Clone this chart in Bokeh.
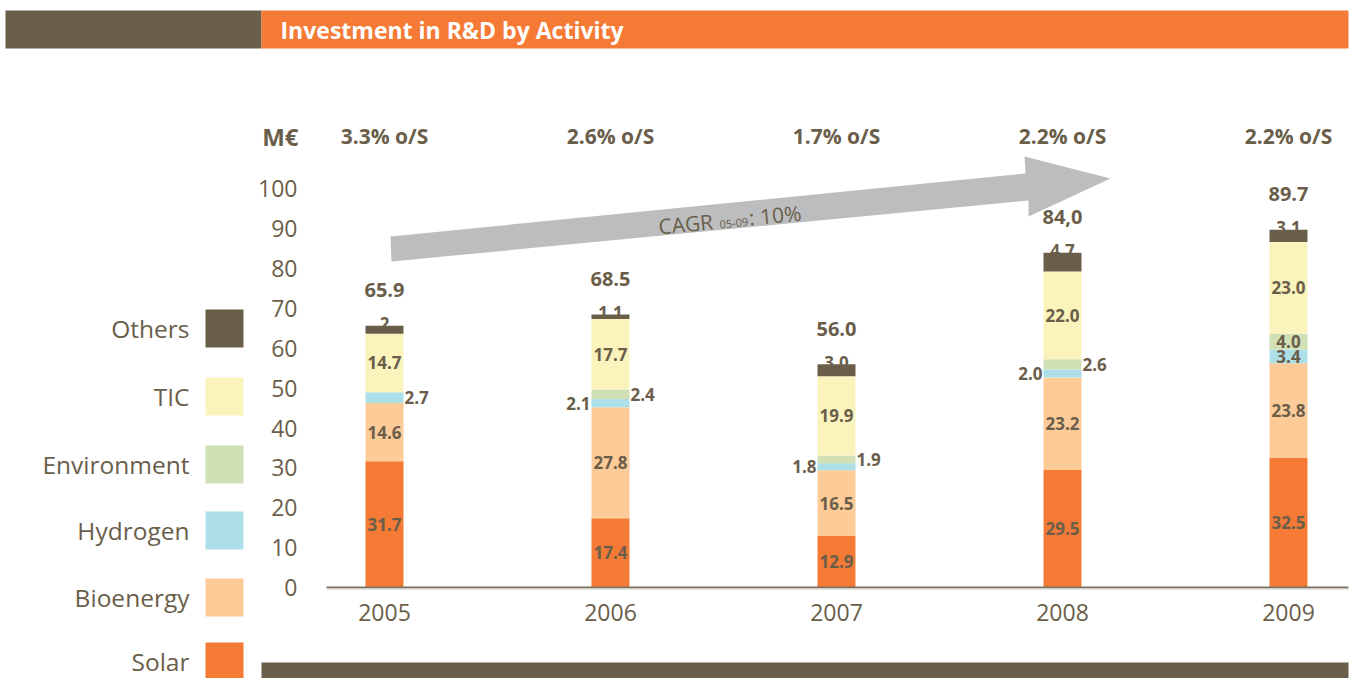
import math
from bokeh.plotting import figure
from bokeh.models import Range1d, BoxAnnotation, Label, PolyAnnotation, ColumnDataSource
from bokeh.core.properties import value
from bokeh.embed import file_html
from bokeh.resources import INLINE

# ---------------- data ----------------
years = ["2005", "2006", "2007", "2008", "2009"]
solar = [31.7, 17.4, 12.9, 29.5, 32.5]
bioenergy = [14.6, 27.8, 16.5, 23.2, 23.8]
hydrogen = [2.7, 2.1, 1.8, 2.0, 3.4]
environment = [0.0, 2.4, 1.9, 2.6, 4.0]
tic = [14.7, 17.7, 19.9, 22.0, 23.0]
others = [2.0, 1.1, 3.0, 4.7, 3.1]
others_labels = ["2", "1.1", "3.0", "4.7", "3.1"]
total_labels = ["65.9", "68.5", "56.0", "84,0", "89.7"]
share_labels = ["3.3% o/S", "2.6% o/S", "1.7% o/S", "2.2% o/S", "2.2% o/S"]
y_ticks = [0, 10, 20, 30, 40, 50, 60, 70, 80, 90, 100]
series_names = ["Solar", "Bioenergy", "Hydrogen", "Environment", "TIC", "Others"]
series_values = [solar, bioenergy, hydrogen, environment, tic, others]
title_text = "Investment in R&D by Activity"
unit_text = "M€"
cagr_text = ["CAGR", "05-09", ": 10%"]

# ---------------- style ----------------
BROWN = "#6A5E4A"
ORANGE = "#F47A36"
colors = [ORANGE, "#FDCB98", "#ADDFE9", "#D0E0B4", "#FBF3BC", BROWN]
GRAY = "#BCBDBF"
FONT = value("Open Sans")
BAR_W = 0.168
placement = {
    "Solar": ["c"] * 5,
    "Bioenergy": ["c"] * 5,
    "Hydrogen": ["r", "l", "l", "l", "c"],
    "Environment": ["n", "r", "r", "r", "c"],
    "TIC": ["c"] * 5,
    "Others": ["a"] * 5,
}

W, H = 1355, 678
p = figure(width=W, height=H, output_backend="svg", toolbar_location=None,
           x_range=Range1d(-1.6991, 4.2965), y_range=Range1d(-22.84, 147.3),
           x_axis_location=None, y_axis_location=None,
           min_border=0, min_border_left=0, min_border_right=0,
           min_border_top=0, min_border_bottom=0)
p.outline_line_color = None
p.xgrid.visible = False
p.ygrid.visible = False
p.background_fill_color = "white"
p.border_fill_color = "white"

xs = list(range(len(years)))
data = {"x": xs}
for n, v in zip(series_names, series_values):
    data[n] = v
src = ColumnDataSource(data)
p.vbar_stack(series_names, x="x", width=BAR_W, fill_color=colors,
             line_color=None, source=src)

# axis line and tick labels (drawn through the plot's scales)
X_AXIS_START, X_AXIS_END = -0.2566, 4.2655
p.segment(x0=[X_AXIS_START], x1=[X_AXIS_END], y0=[0], y1=[0],
          line_color="#7B705F", line_width=2)
p.segment(x0=[X_AXIS_START], x1=[X_AXIS_END], y0=[-0.45], y1=[-0.45],
          line_color="#E6E3DE", line_width=1.5)
X_YLAB = -0.385
p.text(x=[X_YLAB] * len(y_ticks), y=y_ticks, text=[str(t) for t in y_ticks],
       text_align="right", text_baseline="middle", text_font=FONT,
       text_font_size="23px", text_color=BROWN)
Y_XLAB = -6.3
p.text(x=xs, y=[Y_XLAB] * len(xs), text=years, text_align="center",
       text_baseline="middle", text_font=FONT, text_font_size="23px",
       text_color=BROWN)

# segment labels
groups = {"c": ([], [], []), "l": ([], [], []), "r": ([], [], []), "a": ([], [], [])}
base = [0.0] * len(years)
for n, v in zip(series_names, series_values):
    for i in xs:
        pos = placement[n][i]
        lab = others_labels[i] if n == "Others" else f"{v[i]:.1f}"
        if pos == "c":
            gx, gy = i, base[i] + v[i] / 2
        elif pos == "l":
            gx, gy = i - BAR_W / 2, base[i] + v[i] / 2
        elif pos == "r":
            gx, gy = i + BAR_W / 2, base[i] + v[i] / 2
        elif pos == "a":
            gx, gy = i, base[i] + v[i]
        if pos in groups:
            groups[pos][0].append(gx)
            groups[pos][1].append(gy)
            groups[pos][2].append(lab)
        base[i] += v[i]
totals = base

common = dict(text_font=FONT, text_font_style="bold", text_font_size="17px",
              text_color=BROWN)
gx, gy, gt = groups["c"]
p.text(x=gx, y=gy, text=gt, text_align="center", text_baseline="middle", **common)
gx, gy, gt = groups["l"]
p.text(x=gx, y=gy, text=gt, text_align="right", text_baseline="middle",
       x_offset=-1, **common)
gx, gy, gt = groups["r"]
p.text(x=gx, y=gy, text=gt, text_align="left", text_baseline="middle",
       x_offset=1, **common)
gx, gy, gt = groups["a"]
p.text(x=gx, y=[g + 0.5 for g in gy], text=gt, text_align="center",
       text_baseline="alphabetic", **common)

# totals above bars
TOTAL_GAP = 8.9
p.text(x=xs, y=[t + TOTAL_GAP for t in totals], text=total_labels,
       text_align="center", text_baseline="middle", text_font=FONT,
       text_font_style="bold", text_font_size="20px", text_color=BROWN)

# share of sales row
Y_SHARE = 113.2
p.text(x=xs, y=[Y_SHARE] * len(xs), text=share_labels, text_align="center",
       text_baseline="middle", text_font=FONT, text_font_style="bold",
       text_font_size="21px", text_color=BROWN)
p.add_layout(Label(x=298, y=Y_SHARE, x_units="canvas", y_units="data",
                   text=unit_text, text_align="right", text_baseline="middle",
                   text_font="Open Sans", text_font_style="bold",
                   text_font_size="24px", text_color=BROWN))

# CAGR arrow
arrow = PolyAnnotation(xs=[390, 1025, 1024, 1110, 1028, 1028, 391],
                       ys=[236, 173, 156, 178, 216, 200, 261],
                       xs_units="canvas", ys_units="canvas",
                       fill_color=GRAY, fill_alpha=1.0, line_color=None,
                       level="underlay")
p.add_layout(arrow)
ang = 0.0975
dx, dy = math.cos(ang), -math.sin(ang)
nx, ny = math.sin(ang), math.cos(ang)
ax0, ay0 = 658, 226
anchors = [(ax0, ay0, "21px"),
           (ax0 + 61 * dx + 4 * nx, ay0 + 61 * dy + 4 * ny, "11px"),
           (ax0 + 91 * dx, ay0 + 91 * dy, "21px")]
for t, (axx, ayy, fs) in zip(cagr_text, anchors):
    p.add_layout(Label(x=axx, y=ayy, x_units="canvas", y_units="canvas",
                       text=t, angle=ang, text_align="left",
                       text_baseline="alphabetic", text_font="Open Sans",
                       text_font_size=fs, text_color=BROWN))

def band(l, r, t, b, c):
    p.add_layout(BoxAnnotation(left=l, right=r, top=t, bottom=b,
                               left_units="canvas", right_units="canvas",
                               top_units="canvas", bottom_units="canvas",
                               fill_color=c, fill_alpha=1, line_color=None,
                               level="underlay"))

# header band
band(5, 261, 10, 48, BROWN)
band(261, 1348, 10, 48, ORANGE)
p.add_layout(Label(x=280, y=29, x_units="canvas", y_units="canvas",
                   text=title_text, text_align="left", text_baseline="middle",
                   text_font="Open Sans", text_font_style="bold",
                   text_font_size="23px", text_color="white"))

# bottom band
band(261, 1348, 662, 678, BROWN)

# legend (top item = Others)
leg_tops = [642, 578, 511, 445, 377, 309]
for n, c, t in zip(series_names, colors, leg_tops):
    band(205, 243, t, t + 38, c)
    p.add_layout(Label(x=189, y=t + 19, x_units="canvas", y_units="canvas",
                       text=n, text_align="right", text_baseline="middle",
                       text_font="Open Sans", text_font_size="24.5px",
                       text_color=BROWN))

open("out.html", "w").write(file_html(p, INLINE))
